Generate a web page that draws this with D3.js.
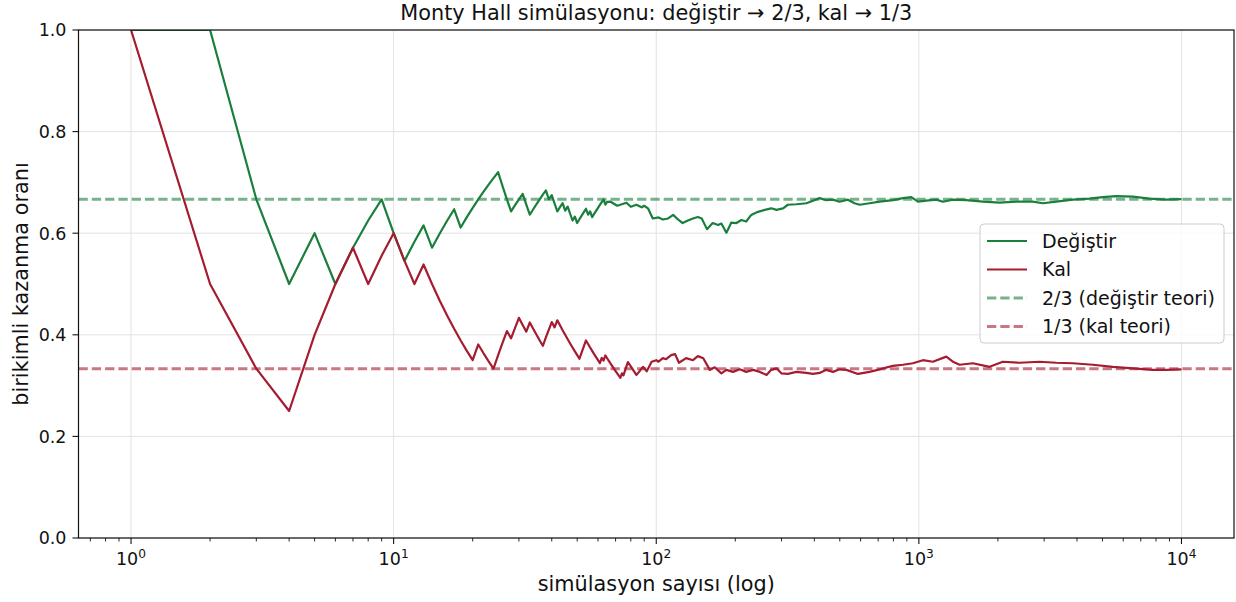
<!DOCTYPE html>
<html>
<head>
<meta charset="utf-8">
<script src="https://cdn.jsdelivr.net/npm/d3@7"></script>
<style>
  html, body { margin: 0; padding: 0; background: #fff; }
  svg { display: block; font-family: "DejaVu Sans", sans-serif; }
</style>
</head>
<body>
<svg id="chart" width="1236" height="602"></svg>
<script>
// Cumulative win rate after n games, "switch" strategy
const switchTrials = [
  1,2,3,4,5,6,7,8,9,10,11,12,13,14,15,16,17,18,19,20,
  21,22,23,24,25,26,27,28,29,30,31,32,33,34,35,36,37,38,39,40,
  41,42,43,44,45,46,47,48,49,50,51,52,53,54,55,56,57,58,59,60,
  61,62,63,64,65,67,71,74,77,80,84,88,90,93,97,102,106,111,116,121,
  126,132,138,144,149,156,164,172,177,185,190,193,202,211,220,230,244,259,274,287,
  304,317,342,373,395,419,444,471,499,537,569,595,649,709,797,870,936,992,1068,1165,
  1235,1348,1516,1753,2029,2349,2716,2966,3336,3859,4465,5017,5644,6527,7554,8746,10000
];
const switchRate = [
  1.0,1.0,0.6667,0.5,0.6,0.5,0.5714,0.625,0.6667,0.6,0.5455,0.5833,0.6154,0.5714,0.6,0.625,0.6471,0.6111,0.6316,0.65,
  0.6667,0.6818,0.6957,0.7083,0.72,0.6923,0.6667,0.6429,0.6552,0.6667,0.6774,0.6563,0.6364,0.6471,0.6571,0.6667,0.6757,0.6842,0.6667,0.675,
  0.6585,0.6429,0.6512,0.6591,0.6444,0.6522,0.6383,0.625,0.6327,0.62,0.6275,0.6346,0.6415,0.6481,0.6364,0.6429,0.6316,0.6379,0.6441,0.65,
  0.6557,0.6613,0.6667,0.6563,0.6615,0.662,0.654,0.657,0.660,0.652,0.656,0.651,0.654,0.649,0.629,0.631,0.627,0.629,0.636,0.627,
  0.620,0.625,0.629,0.632,0.629,0.608,0.620,0.616,0.619,0.601,0.613,0.621,0.620,0.626,0.623,0.636,0.642,0.646,0.649,0.646,
  0.649,0.656,0.657,0.659,0.664,0.669,0.665,0.666,0.662,0.666,0.659,0.656,0.659,0.662,0.665,0.669,0.671,0.662,0.664,0.666,
  0.662,0.666,0.665,0.662,0.660,0.662,0.662,0.659,0.662,0.666,0.668,0.671,0.673,0.672,0.668,0.666,0.667
];

// Cumulative win rate after n games, "stay" strategy
const stayTrials = [
  1,2,3,4,5,6,7,8,9,10,11,12,13,14,15,16,17,18,19,20,
  21,22,23,24,25,26,27,28,29,30,31,32,33,34,35,36,37,38,39,40,
  41,42,43,44,45,46,47,48,49,50,51,52,53,54,55,56,57,58,59,60,
  61,62,63,64,65,66,67,68,69,70,71,72,73,74,75,76,77,78,84,86,
  89,92,96,100,102,106,109,114,118,122,130,138,144,151,160,167,177,185,196,208,
  220,234,248,263,274,287,300,317,342,373,395,419,444,471,499,530,586,649,709,797,
  870,949,1036,1131,1272,1348,1429,1606,1859,2088,2418,2881,3336,3859,4596,5476,6527,7776,8746,10000
];
const stayRate = [
  1.0,0.5,0.3333,0.25,0.4,0.5,0.5714,0.5,0.5556,0.6,0.5455,0.5,0.5385,0.5,0.4667,0.4375,0.4118,0.3889,0.3684,0.35,
  0.381,0.3636,0.3478,0.3333,0.36,0.3846,0.4074,0.3929,0.4138,0.4333,0.4194,0.4063,0.4242,0.4118,0.4,0.3889,0.3784,0.3947,0.4103,0.425,
  0.4146,0.4286,0.4186,0.4091,0.4,0.3913,0.383,0.375,0.3673,0.36,0.3529,0.3654,0.3774,0.3889,0.3818,0.375,0.3684,0.3621,0.3559,0.35,
  0.3443,0.3548,0.3492,0.3594,0.3538,0.3485,0.3433,0.3382,0.3333,0.3286,0.3239,0.3194,0.3151,0.3243,0.32,0.3289,0.3377,0.3462,0.321,0.327,
  0.337,0.328,0.347,0.350,0.347,0.354,0.352,0.360,0.362,0.345,0.354,0.350,0.358,0.354,0.331,0.336,0.324,0.331,0.327,0.332,
  0.327,0.331,0.327,0.321,0.331,0.334,0.324,0.323,0.327,0.325,0.323,0.325,0.331,0.327,0.332,0.331,0.323,0.327,0.332,0.339,
  0.341,0.344,0.350,0.347,0.357,0.347,0.341,0.344,0.337,0.347,0.345,0.347,0.345,0.344,0.341,0.337,0.334,0.331,0.331,0.332
];

// Theoretical win probabilities
const theorySwitch = 2 / 3;
const theoryStay = 1 / 3;

const xTickValues = [1, 10, 100, 1000, 10000];
const xTickExponents = ["0", "1", "2", "3", "4"];
const yTickValues = [0, 0.2, 0.4, 0.6, 0.8, 1.0];
const yTickLabels = ["0.0", "0.2", "0.4", "0.6", "0.8", "1.0"];
const legendLabels = ["Değiştir", "Kal", "2/3 (değiştir teori)", "1/3 (kal teori)"];

const titleText = "Monty Hall simülasyonu: değiştir → 2/3, kal → 1/3";
const xLabelText = "simülasyon sayısı (log)";
const yLabelText = "birikimli kazanma oranı";

const GREEN = "#1a7f3c";
const RED = "#a51c30";

const plot = { left: 78.5, right: 1234, top: 30, bottom: 538 };

const svg = d3.select("#chart");

const x = d3.scaleLog()
  .domain([Math.pow(10, -0.2), Math.pow(10, 4.2)])
  .range([plot.left, plot.right]);
const y = d3.scaleLinear()
  .domain([0, 1])
  .range([plot.bottom, plot.top]);

svg.append("defs").append("clipPath").attr("id", "plotClip")
  .append("rect")
  .attr("x", plot.left).attr("y", plot.top)
  .attr("width", plot.right - plot.left)
  .attr("height", plot.bottom - plot.top);

// grid
const grid = svg.append("g").attr("stroke", "#e3e3e3").attr("stroke-width", 1);
grid.selectAll("line.gx").data(xTickValues).join("line")
  .attr("x1", d => x(d)).attr("x2", d => x(d))
  .attr("y1", plot.top).attr("y2", plot.bottom);
grid.selectAll("line.gy").data(yTickValues).join("line")
  .attr("x1", plot.left).attr("x2", plot.right)
  .attr("y1", d => y(d)).attr("y2", d => y(d));

// data series
const lineGen = d3.line().x(d => x(d[0])).y(d => y(d[1]));
const switchData = switchTrials.map((n, i) => [n, switchRate[i]]);
const stayData = stayTrials.map((n, i) => [n, stayRate[i]]);

const plotArea = svg.append("g").attr("clip-path", "url(#plotClip)");
plotArea.append("path").datum(switchData)
  .attr("d", lineGen).attr("fill", "none")
  .attr("stroke", GREEN).attr("stroke-width", 2.2).attr("stroke-linejoin", "round");
plotArea.append("path").datum(stayData)
  .attr("d", lineGen).attr("fill", "none")
  .attr("stroke", RED).attr("stroke-width", 2.2).attr("stroke-linejoin", "round");

// theory reference lines
[[theorySwitch, GREEN], [theoryStay, RED]].forEach(([v, c]) => {
  plotArea.append("line")
    .attr("x1", plot.left).attr("x2", plot.right)
    .attr("y1", y(v)).attr("y2", y(v))
    .attr("stroke", c).attr("stroke-opacity", 0.6)
    .attr("stroke-width", 3).attr("stroke-dasharray", "9.3,4");
});

// frame
svg.append("rect")
  .attr("x", plot.left).attr("y", plot.top)
  .attr("width", plot.right - plot.left).attr("height", plot.bottom - plot.top)
  .attr("fill", "none").attr("stroke", "#111").attr("stroke-width", 1.2);

// x ticks
const minorTicks = x.ticks().filter(t => !xTickValues.includes(t));
svg.append("g").selectAll("line").data(minorTicks).join("line")
  .attr("x1", d => x(d)).attr("x2", d => x(d))
  .attr("y1", plot.bottom).attr("y2", plot.bottom + 3.5)
  .attr("stroke", "#111").attr("stroke-width", 0.9);
svg.append("g").selectAll("line").data(xTickValues).join("line")
  .attr("x1", d => x(d)).attr("x2", d => x(d))
  .attr("y1", plot.bottom).attr("y2", plot.bottom + 6)
  .attr("stroke", "#111").attr("stroke-width", 1.1);

const xLabels = svg.append("g").attr("font-size", 17.5).attr("fill", "#111");
xTickValues.forEach((v, i) => {
  const t = xLabels.append("text")
    .attr("x", x(v)).attr("y", 564.5)
    .attr("text-anchor", "middle");
  t.append("tspan").text("10");
  t.append("tspan").attr("font-size", 12.2).attr("dy", -6.5).text(xTickExponents[i]);
});

// y ticks
svg.append("g").selectAll("line").data(yTickValues).join("line")
  .attr("x1", plot.left - 6).attr("x2", plot.left)
  .attr("y1", d => y(d)).attr("y2", d => y(d))
  .attr("stroke", "#111").attr("stroke-width", 1.1);
svg.append("g").attr("font-size", 17.5).attr("fill", "#111")
  .selectAll("text").data(yTickValues).join("text")
  .attr("x", plot.left - 12).attr("y", d => y(d))
  .attr("dy", "0.36em").attr("text-anchor", "end")
  .text((d, i) => yTickLabels[i]);

// titles
svg.append("text").attr("x", (plot.left + plot.right) / 2).attr("y", 20)
  .attr("text-anchor", "middle").attr("font-size", 20.8).attr("fill", "#111")
  .text(titleText);
svg.append("text").attr("x", (plot.left + plot.right) / 2).attr("y", 591)
  .attr("text-anchor", "middle").attr("font-size", 20.8).attr("fill", "#111")
  .text(xLabelText);
svg.append("text")
  .attr("transform", `translate(28, ${(plot.top + plot.bottom) / 2}) rotate(-90)`)
  .attr("text-anchor", "middle").attr("font-size", 20.8).attr("fill", "#111")
  .text(yLabelText);

// legend
const legend = svg.append("g");
legend.append("rect")
  .attr("x", 980).attr("y", 224).attr("width", 244).attr("height", 119)
  .attr("rx", 4).attr("fill", "#fff").attr("fill-opacity", 0.8)
  .attr("stroke", "#cccccc").attr("stroke-width", 1);
const legendStyles = [
  { c: GREEN, o: 1, w: 2.2, dash: null },
  { c: RED, o: 1, w: 2.2, dash: null },
  { c: GREEN, o: 0.6, w: 3, dash: "9.3,4" },
  { c: RED, o: 0.6, w: 3, dash: "9.3,4" }
];
legendLabels.forEach((lab, i) => {
  const cy = 241 + i * 28.5;
  const s = legendStyles[i];
  const l = legend.append("line")
    .attr("x1", 987).attr("x2", 1027).attr("y1", cy).attr("y2", cy)
    .attr("stroke", s.c).attr("stroke-opacity", s.o).attr("stroke-width", s.w);
  if (s.dash) l.attr("stroke-dasharray", s.dash);
  legend.append("text").attr("x", 1042).attr("y", cy).attr("dy", "0.35em")
    .attr("font-size", 19).attr("fill", "#111").text(lab);
});
</script>
</body>
</html>
